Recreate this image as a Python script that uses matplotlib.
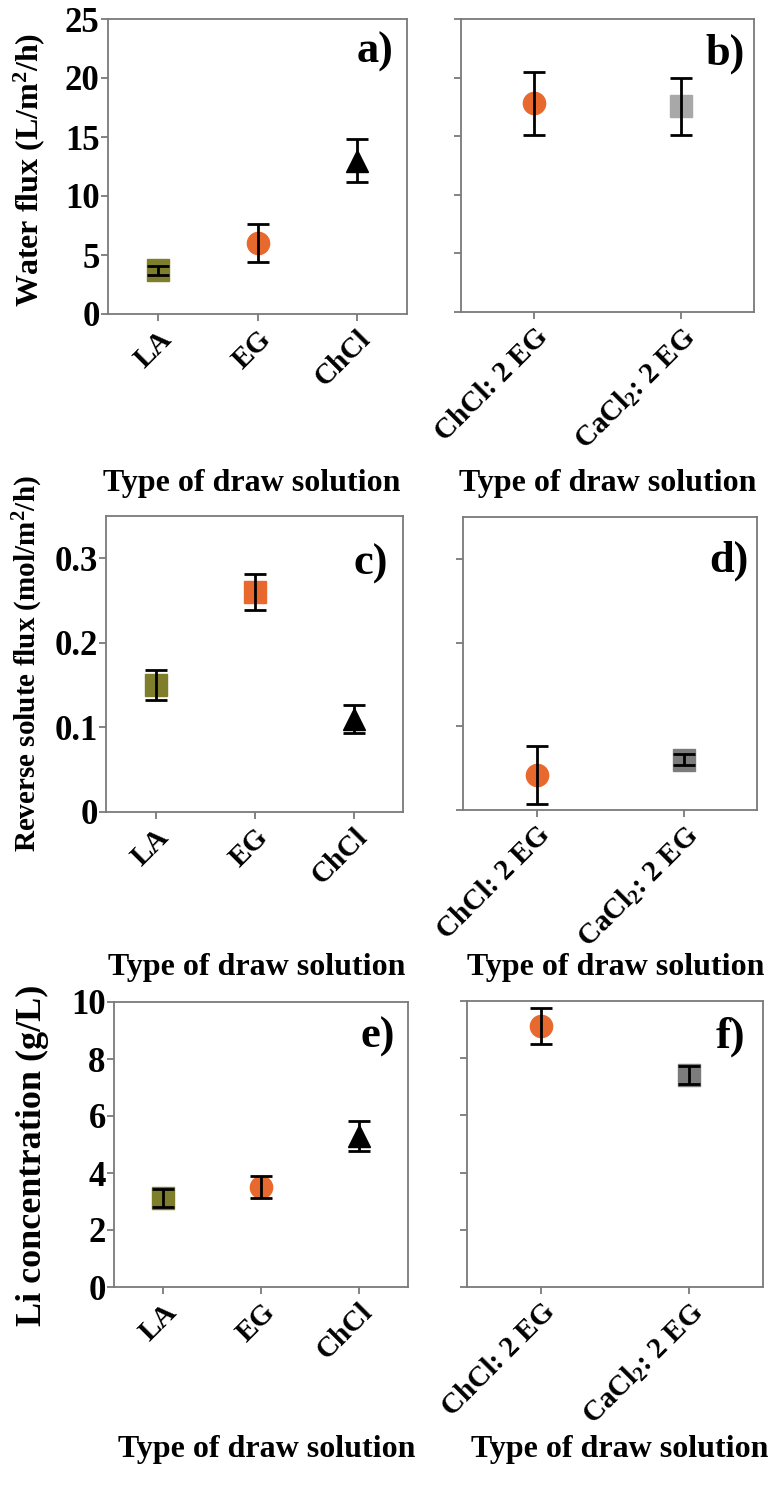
import matplotlib.pyplot as plt
import numpy as np

plt.rcParams['font.family'] = ['Liberation Serif', 'DejaVu Serif']
plt.rcParams['font.weight'] = 'bold'
plt.rcParams['mathtext.fontset'] = 'custom'
plt.rcParams['mathtext.rm'] = 'Liberation Serif:bold'
plt.rcParams['mathtext.it'] = 'Liberation Serif:bold:italic'
plt.rcParams['mathtext.bf'] = 'Liberation Serif:bold'

# data
single_labels = ['LA', 'EG', 'ChCl']
des_labels = ['ChCl: 2 EG', r'CaCl$_2$: 2 EG']

water_flux_single = [3.7, 6.0, 13.0]
water_flux_single_err = [0.4, 1.6, 1.8]
water_flux_des = [17.8, 17.55]
water_flux_des_err = [2.7, 2.45]

rsf_single = [0.150, 0.260, 0.110]
rsf_single_err = [0.018, 0.021, 0.016]
rsf_des = [0.042, 0.060]
rsf_des_err = [0.035, 0.0065]

li_single = [3.13, 3.5, 5.29]
li_single_err = [0.31, 0.39, 0.53]
li_des = [9.13, 7.42]
li_des_err = [0.62, 0.31]

olive = '#7f7f2b'
orange = '#e8692d'
black = '#000000'
lgray = '#a8a8a8'
dgray = '#7c7c7c'

W, H = 777, 1487
fig = plt.figure(figsize=(W / 100, H / 100), dpi=100)


def box(l, t, r, b):
    return [l / W, 1 - b / H, (r - l) / W, (b - t) / H]


def panel(rect, labels, vals, errs, markers, colors, ylim, yticks, yticklabels,
          letter, lx, ly):
    ax = fig.add_axes(rect)
    x = np.arange(len(labels))
    for xi, v, m, c in zip(x, vals, markers, colors):
        ax.plot(xi, v, marker=m, ms=16, color=c, mec=c, ls='none', zorder=2)
    ax.errorbar(x, vals, yerr=errs, fmt='none', ecolor='black', elinewidth=2,
                capsize=8, capthick=2, zorder=3)
    ax.set_xlim(-0.5, len(labels) - 0.5)
    ax.set_ylim(*ylim)
    ax.set_yticks(yticks)
    if yticklabels is None:
        ax.set_yticklabels([])
    else:
        ax.set_yticklabels(yticklabels, fontsize=25, fontweight='bold')
    ax.set_xticks(x)
    ax.set_xticklabels(labels, rotation=45, ha='right', va='top',
                       rotation_mode='anchor', fontsize=21, fontweight='bold')
    for s in ax.spines.values():
        s.set_color('#7a7a7a')
        s.set_linewidth(1.3)
    ax.tick_params(color='#7a7a7a', labelcolor='black', length=5, width=1.3)
    ax.tick_params(axis='y', pad=1)
    ax.tick_params(axis='x', pad=3)
    ax.text(lx, ly, letter, transform=ax.transAxes, ha='right', va='center',
            fontsize=32, fontweight='bold')
    return ax


wf_ticks = [0, 5, 10, 15, 20, 25]
rsf_ticks = [0, 0.1, 0.2, 0.3]
li_ticks = [0, 2, 4, 6, 8, 10]

panel(box(108, 19, 407, 314), single_labels, water_flux_single, water_flux_single_err,
      ['s', 'o', '^'], [olive, orange, black], (0, 25), wf_ticks,
      [str(t) for t in wf_ticks], 'a)', 0.955, 0.89)
panel(box(461, 19, 754, 312), des_labels, water_flux_des, water_flux_des_err,
      ['o', 's'], [orange, lgray], (0, 25), wf_ticks, None, 'b)', 0.97, 0.88)

panel(box(106, 516, 403, 812), single_labels, rsf_single, rsf_single_err,
      ['s', 's', '^'], [olive, orange, black], (0, 0.35), rsf_ticks,
      ['0', '0.1', '0.2', '0.3'], 'c)', 0.95, 0.84)
panel(box(463, 517, 757, 810), des_labels, rsf_des, rsf_des_err,
      ['o', 's'], [orange, dgray], (0, 0.35), rsf_ticks, None, 'd)', 0.97, 0.85)

panel(box(114, 1002, 408, 1287), single_labels, li_single, li_single_err,
      ['s', 'o', '^'], [olive, orange, black], (0, 10), li_ticks,
      [str(t) for t in li_ticks], 'e)', 0.956, 0.877)
panel(box(467, 1001, 763, 1287), des_labels, li_des, li_des_err,
      ['o', 's'], [orange, dgray], (0, 10), li_ticks, None, 'f)', 0.94, 0.874)


def ftext(px, py, s, **kw):
    fig.text(px / W, 1 - py / H, s, ha='center', va='center', fontweight='bold', **kw)


ftext(29, 170, r'Water flux (L/m$^2$/h)', rotation=90, fontsize=23)
ftext(28, 664, r'Reverse solute flux (mol/m$^2$/h)', rotation=90, fontsize=21)
ftext(32, 1155, 'Li concentration (g/L)', rotation=90, fontsize=26)

for px, py in [(252, 484), (608, 484), (257, 968), (616, 968), (267, 1450), (620, 1450)]:
    ftext(px, py, 'Type of draw solution', fontsize=23)

fig.savefig('out.png', dpi=100)
